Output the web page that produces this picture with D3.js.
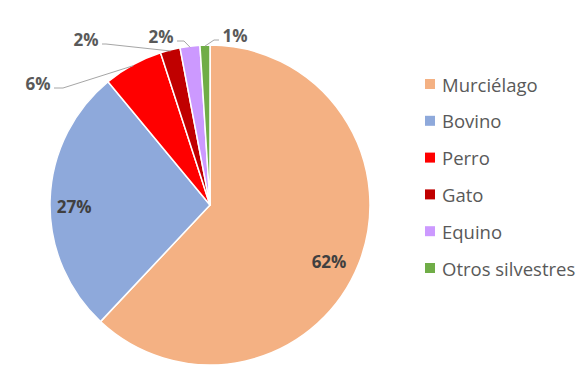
<!DOCTYPE html>
<html>
<head>
<meta charset="utf-8">
<script src="https://cdn.jsdelivr.net/npm/d3@7"></script>
<style>
  html, body { margin: 0; padding: 0; background: #fff; }
  svg { display: block; }
</style>
</head>
<body>
<svg id="chart" width="580" height="365"></svg>
<script>
// Reported origin of cases (%)
const categories = ["Murciélago", "Bovino", "Perro", "Gato", "Equino", "Otros silvestres"];
const values = [62, 27, 6, 2, 2, 1];
const colors = ["#F4B183", "#8EA9DB", "#FF0000", "#C00000", "#CC99FF", "#70AD47"];

const cx = 210, cy = 205, R = 160;

const svg = d3.select("#chart");
const data = categories.map((c, i) => ({ name: c, value: values[i], color: colors[i] }));

const pie = d3.pie().value(d => d.value).sort(null);
const arcs = pie(data);
const arc = d3.arc().innerRadius(0).outerRadius(R);

const g = svg.append("g").attr("transform", `translate(${cx},${cy})`);

g.selectAll("path.slice")
  .data(arcs)
  .join("path")
  .attr("class", "slice")
  .attr("d", arc)
  .attr("fill", d => d.data.color)
  .attr("stroke", "#fff")
  .attr("stroke-width", 1.5)
  .attr("stroke-linejoin", "round");

const fmt = v => d3.format(".0f")(v) + "%";
const labelFont = "'Open Sans', Lato, sans-serif";
const labelSize = 17;

// Inside labels for the two large slices (placed along the mid-angle)
const inside = {
  "Murciélago": { r: 0.8, dy: 9 },
  "Bovino":     { r: 0.85, dy: 6 }
};
arcs.filter(d => inside[d.data.name]).forEach(d => {
  const o = inside[d.data.name];
  const mid = (d.startAngle + d.endAngle) / 2;
  const rr = R * o.r;
  g.append("text")
    .attr("x", Math.sin(mid) * rr)
    .attr("y", -Math.cos(mid) * rr + o.dy)
    .attr("text-anchor", "middle")
    .attr("dominant-baseline", "central")
    .attr("font-family", labelFont)
    .attr("font-weight", "bold")
    .attr("font-size", labelSize)
    .attr("fill", "#404040")
    .text(fmt(d.data.value));
});

// Outside labels with leader lines for the small slices
// (lx, ly): label centre relative to the pie centre; elbow: x of the bend
const outside = {
  "Perro":            { lx: -172, ly: -122, side: "right", elbow: -147 },
  "Gato":             { lx: -124, ly: -166, side: "right", elbow: -104 },
  "Equino":           { lx: -49,  ly: -169, side: "right", elbow: -26 },
  "Otros silvestres": { lx: 25,   ly: -170, side: "left",  elbow: 4 }
};

arcs.filter(d => outside[d.data.name]).forEach(d => {
  const o = outside[d.data.name];
  const mid = (d.startAngle + d.endAngle) / 2;
  const px = Math.sin(mid) * (R - 1);
  const py = -Math.cos(mid) * (R - 1);
  const halfW = 13;
  const tx = o.side === "right" ? o.lx + halfW + 3 : o.lx - halfW - 3;
  const ty = o.ly + 5;
  const path = d3.path();
  path.moveTo(tx, ty);
  path.lineTo(o.elbow, ty);
  path.lineTo(px, py);
  g.append("path")
    .attr("d", path.toString())
    .attr("fill", "none")
    .attr("stroke", "#A6A6A6")
    .attr("stroke-width", 1);
  g.append("text")
    .attr("x", o.lx)
    .attr("y", o.ly)
    .attr("text-anchor", "middle")
    .attr("dominant-baseline", "central")
    .attr("font-family", labelFont)
    .attr("font-weight", "bold")
    .attr("font-size", labelSize)
    .attr("fill", "#595959")
    .text(fmt(d.data.value));
});

// Legend
const legend = svg.append("g").attr("transform", "translate(425,84)");
const rowH = 36.8;
const items = legend.selectAll("g.item")
  .data(data)
  .join("g")
  .attr("class", "item")
  .attr("transform", (d, i) => `translate(0,${i * rowH})`);
items.append("rect")
  .attr("x", 0).attr("y", -5)
  .attr("width", 10).attr("height", 10)
  .attr("fill", d => d.color);
items.append("text")
  .attr("x", 17).attr("y", 0)
  .attr("dominant-baseline", "central")
  .attr("font-family", labelFont)
  .attr("font-size", 18.5)
  .attr("fill", "#595959")
  .text(d => d.name);
</script>
</body>
</html>
